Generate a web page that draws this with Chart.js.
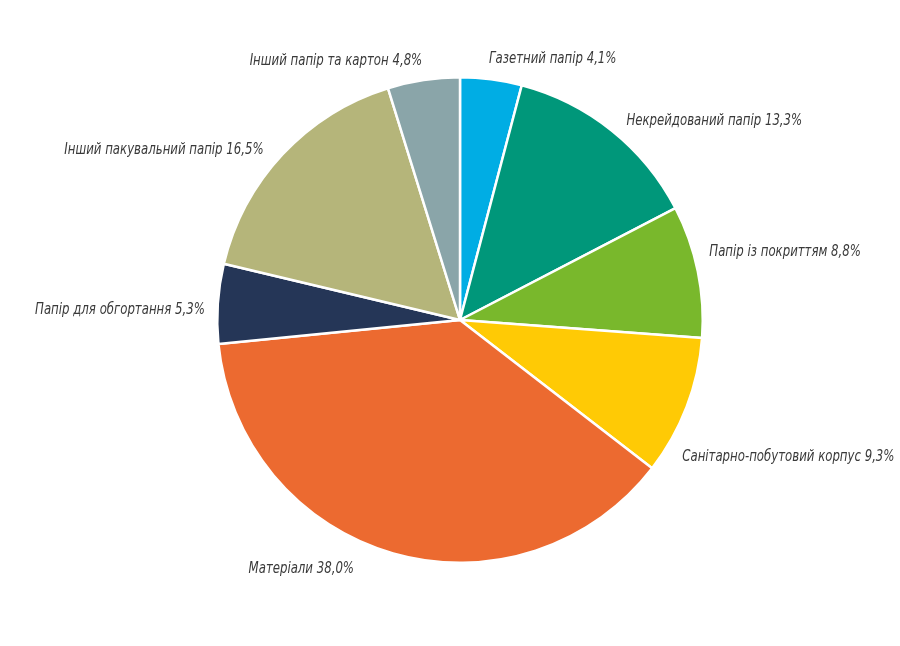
<!DOCTYPE html>
<html><head><meta charset="utf-8">
<script src="https://cdn.jsdelivr.net/npm/chart.js@4"></script>
<style>html,body{margin:0;padding:0;background:#fff;}#wrap{width:900px;height:646px;}</style>
</head><body><div id="wrap"><canvas id="c" width="900" height="646"></canvas></div>
<script>
const categories = ["Газетний папір","Некрейдований папір","Папір із покриттям","Санітарно-побутовий корпус","Матеріали","Папір для обгортання","Інший пакувальний папір","Інший папір та картон"];
const shares = [4.1, 13.3, 8.8, 9.3, 38.0, 5.3, 16.5, 4.8];
const valueLabels = ["4,1%","13,3%","8,8%","9,3%","38,0%","5,3%","16,5%","4,8%"];
const colors = ["#00ade4","#00977a","#79b82c","#ffca05","#ec6a30","#253657","#b5b57a","#8aa5a9"];
// label layout nudges (px) relative to the computed outside anchor
const labelNudge = [[-5,2],[1,8],[-10,-15],[-25,42],[-33,-5],[9,8],[-3,11],[2,3]];

const outsideLabels = {
  id:'outsideLabels',
  afterDatasetsDraw(chart){
    const ctx = chart.ctx;
    const meta = chart.getDatasetMeta(0);
    meta.data.forEach((arc,i)=>{
      const p = arc.getProps(['x','y','startAngle','endAngle','outerRadius'],true);
      const mid = (p.startAngle+p.endAngle)/2;
      const r = p.outerRadius + 22;
      const x = p.x + Math.cos(mid)*r + labelNudge[i][0];
      const y = p.y + Math.sin(mid)*r + labelNudge[i][1];
      ctx.save();
      ctx.font = 'italic 15px "Liberation Sans Narrow","DejaVu Sans Condensed",sans-serif';
      ctx.fillStyle = '#3a3a3a';
      ctx.textBaseline = 'middle';
      ctx.textAlign = Math.cos(mid) >= 0 ? 'left' : 'right';
      ctx.translate(x,y);
      ctx.scale(0.87,1);
      ctx.fillText(categories[i] + ' ' + valueLabels[i], 0, 0);
      ctx.restore();
    });
  }
};

new Chart(document.getElementById('c'),{
  type:'pie',
  data:{labels:categories,datasets:[{data:shares,backgroundColor:colors,borderColor:'#ffffff',borderWidth:2.5}]},
  options:{
    responsive:false,animation:false,
    layout:{padding:{top:76,bottom:82,left:216,right:196}},
    plugins:{legend:{display:false},tooltip:{enabled:false}}
  },
  plugins:[outsideLabels]
});
</script></body></html>
